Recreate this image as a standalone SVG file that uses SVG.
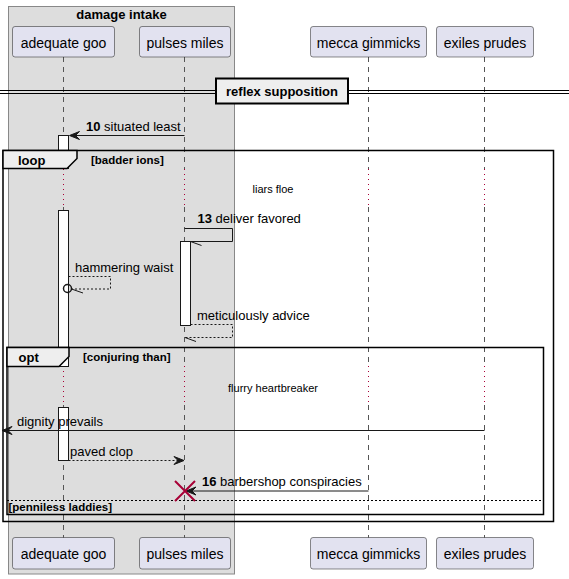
<svg xmlns="http://www.w3.org/2000/svg" width="569" height="579" viewBox="0 0 569 579">
<style>
text{font-family:"Liberation Sans",Arial,sans-serif;fill:#000}
.p{font-size:14px;text-anchor:middle}
.m{font-size:13px}
.b{font-weight:bold}
.box{fill:#E2E2F0;stroke:#181818;stroke-width:0.5}
.life{stroke:#555;stroke-width:1;stroke-dasharray:5,5;fill:none}
.delay{stroke:#A80036;stroke-width:1;stroke-dasharray:1,4;fill:none}
.act{fill:#FFFFFF;stroke:#181818;stroke-width:1}
.msg{stroke:#181818;stroke-width:1;fill:none}
.dash{stroke-dasharray:2,2}
.head{fill:#181818;stroke:#181818;stroke-width:1}
.frame{fill:none;stroke:#000;stroke-width:1.5}
.fhead{fill:#EEEEEE;stroke:#000;stroke-width:1.5}
</style>
<rect id="group-damage-intake" x="8.5" y="6.5" width="226" height="567.5" fill="#DDDDDD" stroke="#888" stroke-width="1"/>
<text class="b" x="121.5" y="19" font-size="13" text-anchor="middle">damage intake</text>

<g id="lifelines">
<path class="life" d="M63.5,57V169M63.5,207V366M63.5,405V538"/>
<path class="delay" d="M63.5,169V207M63.5,366V405"/>
<path class="life" d="M184.5,57V169M184.5,207V366M184.5,405V538"/>
<path class="delay" d="M184.5,169V207M184.5,366V405"/>
<path class="life" d="M368.5,57V169M368.5,207V366M368.5,405V538"/>
<path class="delay" d="M368.5,169V207M368.5,366V405"/>
<path class="life" d="M484.5,57V169M484.5,207V366M484.5,405V538"/>
<path class="delay" d="M484.5,169V207M484.5,366V405"/>
</g>

<g id="divider">
<line x1="0" y1="90.5" x2="569" y2="90.5" stroke="#000"/>
<line x1="0" y1="93.5" x2="569" y2="93.5" stroke="#000"/>
<rect x="216" y="78.5" width="132" height="25" fill="#EEEEEE" stroke="#000" stroke-width="2"/>
<text class="b" x="282" y="96" font-size="13" text-anchor="middle">reflex supposition</text>
</g>

<g id="activations">
<rect class="act" x="58.5" y="135.5" width="10" height="33"/>
<rect class="act" x="58.5" y="210.5" width="10" height="156"/>
<rect class="act" x="58.5" y="407.5" width="10" height="53"/>
<rect class="act" x="180.5" y="241.5" width="10" height="84"/>
</g>

<g id="frame-loop">
<rect class="frame" x="3" y="150.5" width="550.5" height="371"/>
<path class="fhead" d="M3,150.5H77V158.5L67,168.5H3Z"/>
<text class="b" x="18" y="165" font-size="13">loop</text>
<text class="b" x="91" y="164" font-size="11.5">[badder ions]</text>
</g>
<g id="frame-opt">
<rect class="frame" x="7" y="347.5" width="536.5" height="167"/>
<path class="fhead" d="M7,347.5H69V356.5L59,366.5H7Z"/>
<text class="b" x="18.5" y="362" font-size="13">opt</text>
<text class="b" x="83" y="361" font-size="11.5">[conjuring than]</text>
<line x1="7" y1="500.5" x2="543.5" y2="500.5" stroke="#000" stroke-width="1" stroke-dasharray="2,2"/>
<text class="b" x="8.5" y="511" font-size="11.5">[penniless laddies]</text>
</g>

<g id="delays">
<text x="273" y="193" font-size="11" text-anchor="middle">liars floe</text>
<text x="273" y="391.5" font-size="11" text-anchor="middle">flurry heartbreaker</text>
</g>

<g id="connectors">
<path class="msg" d="M184.5,135.5H70"/>
<polygon class="head" points="69.5,135.5 79.5,131.5 75.5,135.5 79.5,139.5"/>
<text class="m" x="86" y="130.5"><tspan class="b">10</tspan> situated least</text>

<path class="msg" d="M184.5,228.5H232.5V241.5H190.5"/>
<line class="msg" x1="190.5" y1="241.5" x2="201.5" y2="245.5"/>
<text class="m" x="197.5" y="222.5"><tspan class="b">13</tspan> deliver favored</text>

<path class="msg dash" d="M68.5,276.5H110.5V289H71.5"/>
<circle cx="67.5" cy="288.5" r="4" fill="none" stroke="#181818" stroke-width="1.5"/>
<line class="msg" x1="71.5" y1="289" x2="83" y2="293"/>
<text class="m" x="75" y="272">hammering waist</text>

<path class="msg dash" d="M190.5,324.5H232.5V337.5H184.5"/>
<line class="msg" x1="185" y1="337.5" x2="196" y2="341.5"/>
<text class="m" x="197" y="319.5">meticulously advice</text>

<path class="msg" d="M484.5,430.5H3"/>
<polygon class="head" points="2,430.5 12,426.5 8,430.5 12,434.5"/>
<text class="m" x="17" y="425.5">dignity prevails</text>

<path class="msg dash" d="M68.5,460.5H182"/>
<polygon class="head" points="184,460.5 174,456.5 178,460.5 174,464.5"/>
<text class="m" x="70" y="455.5">paved clop</text>

<path class="msg" d="M368.5,491H187"/>
<polygon class="head" points="186,491 196,487 192,491 196,495"/>
<path d="M175,481L195,501M175,501L195,481" stroke="#A80036" stroke-width="2" fill="none"/>
<text class="m" x="202" y="486"><tspan class="b">16</tspan> barbershop conspiracies</text>
</g>

<g id="adequate-goo">
<rect class="box" x="12.5" y="26.5" width="102" height="30.5" rx="2.5"/>
<text class="p" x="63.5" y="47.5">adequate goo</text>
<rect class="box" x="12.5" y="537.5" width="102" height="31.5" rx="2.5"/>
<text class="p" x="63.5" y="559">adequate goo</text>
</g>
<g id="pulses-miles">
<rect class="box" x="139.5" y="26.5" width="91" height="30.5" rx="2.5"/>
<text class="p" x="185" y="47.5">pulses miles</text>
<rect class="box" x="139.5" y="537.5" width="91" height="31.5" rx="2.5"/>
<text class="p" x="185" y="559">pulses miles</text>
</g>
<g id="mecca-gimmicks">
<rect class="box" x="310.5" y="26.5" width="116" height="30.5" rx="2.5"/>
<text class="p" x="368.5" y="47.5">mecca gimmicks</text>
<rect class="box" x="310.5" y="537.5" width="116" height="31.5" rx="2.5"/>
<text class="p" x="368.5" y="559">mecca gimmicks</text>
</g>
<g id="exiles-prudes">
<rect class="box" x="436.5" y="26.5" width="97" height="30.5" rx="2.5"/>
<text class="p" x="485" y="47.5">exiles prudes</text>
<rect class="box" x="436.5" y="537.5" width="97" height="31.5" rx="2.5"/>
<text class="p" x="485" y="559">exiles prudes</text>
</g>
</svg>
